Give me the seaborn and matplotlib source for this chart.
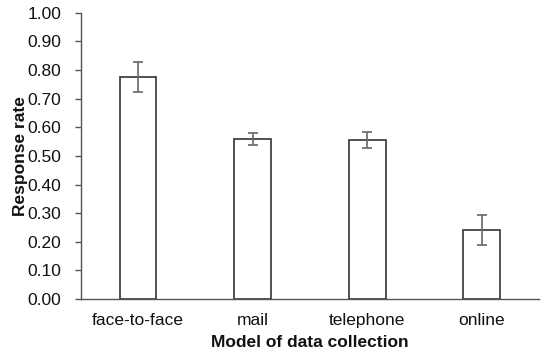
import matplotlib
matplotlib.use("Agg")
import matplotlib.pyplot as plt
import seaborn as sns
import pandas as pd
import numpy as np

categories = ["face-to-face", "mail", "telephone", "online"]
rates = [0.776, 0.559, 0.556, 0.240]
errors = [0.053, 0.021, 0.028, 0.053]

sns.set_theme(style="white")
plt.rcParams['font.family'] = ['Liberation Sans', 'DejaVu Sans']

df = pd.DataFrame({"mode": categories, "rate": rates})

fig = plt.figure(figsize=(5.5, 3.58), dpi=100)
ax = fig.add_axes([0.147, 0.165, 0.833, 0.799])
sns.barplot(data=df, x="mode", y="rate", ax=ax, color="white",
            edgecolor="#333333", linewidth=1.2, width=0.32, errorbar=None)
ax.errorbar(np.arange(len(categories)), rates, yerr=errors, fmt="none",
            ecolor="#666666", elinewidth=1.2, capsize=3.5, capthick=1.2)

ax.set_ylim(0, 1.0)
ax.set_xlim(-0.5, 3.5)
ax.set_yticks(np.arange(0, 1.01, 0.1))
ax.set_yticklabels([f"{v:.2f}" for v in np.arange(0, 1.01, 0.1)], fontsize=12.5)
ax.tick_params(axis="x", labelsize=12.5, length=0, pad=10, labelcolor="#111111")
ax.tick_params(axis="y", length=4, width=1, color="#555555", left=True, pad=10,
               labelcolor="#111111")
for s in ["top", "right"]:
    ax.spines[s].set_visible(False)
for s in ["left", "bottom"]:
    ax.spines[s].set_color("#555555")
    ax.spines[s].set_linewidth(1)
ax.set_xlabel("Model of data collection", fontsize=12.5, fontweight="bold", labelpad=5,
              color="#111111")
ax.set_ylabel("Response rate", fontsize=12.5, fontweight="bold", labelpad=0,
              color="#111111")

fig.savefig("out.png", dpi=100)
